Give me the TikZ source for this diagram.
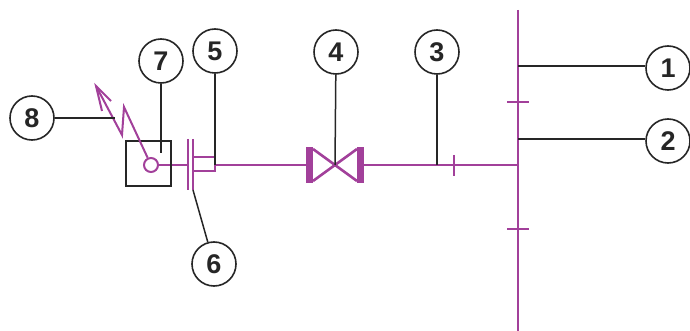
\documentclass[tikz,border=0pt]{standalone}
\usepackage{fontspec}
\setmainfont{Liberation Sans}
\definecolor{pipe}{HTML}{A2409A}
\definecolor{ink}{HTML}{262626}
\tikzset{
  callout/.style={circle,draw=ink,line width=1.6pt,minimum size=44pt,inner sep=0pt,font=\fontsize{27}{27}\selectfont\bfseries,text=ink,fill=white},
  leader/.style={draw=ink,line width=1.5pt},
  pipeline/.style={draw=pipe,line width=2pt},
  thick pipeline/.style={draw=pipe,line width=2.6pt}
}
\begin{document}
\begin{tikzpicture}[x=1pt,y=-1pt]
\useasboundingbox (0,0) rectangle (690,331);
% named points
\coordinate (busT) at (518,10);
\coordinate (busB) at (518,331);
\coordinate (busJ) at (518,165);
\coordinate (bus1) at (518,66);
\coordinate (bus2) at (518,139);
\coordinate (pipe3) at (437,165);
\coordinate (valveC) at (335,165);
\coordinate (boxIn) at (161,153);
\coordinate (flangeC) at (215,165);
\coordinate (zig8) at (115,118);
\coordinate (plateEnd) at (193,190);
% magenta pipework
\draw[pipeline] (busT) -- (busB);
\draw[pipeline] (507,102) -- (529,102);
\draw[pipeline] (507,229) -- (529,229);
\draw[pipeline] (364,165) -- (busJ);
\draw[pipeline] (454,155) -- (454,176);
\draw[pipeline] (flangeC) -- (306,165);
% valve
\fill[pipe] (306,147) rectangle (313,183);
\fill[pipe] (357,147) rectangle (364,183);
\draw[thick pipeline] (313,149) -- (357,181);
\draw[thick pipeline] (313,181) -- (357,149);
% coupling
\draw[pipeline] (188,139) -- (188,190);
\draw[pipeline] (193,139) -- (193,190);
\draw[pipeline] (194,157) -- (215,157) -- (215,171) -- (194,171);
\node[circle,draw=pipe,line width=2pt,minimum size=14pt,inner sep=0pt] (sensor) at (151,165) {};
\draw[pipeline] (sensor) -- (187,165);
% box
\node[draw=ink,line width=1.5pt,minimum size=45pt,inner sep=0pt] (box) at (148.5,163.5) {};
% antenna
\draw[pipeline] (sensor) -- (124,107) -- (122,135) -- (96,86);
\draw[pipeline] (102,111) -- (96,86) -- (111,101);
% callouts
\node[callout] (c8) at (32,118) {8};
\node[callout] (c7) at (161,61) {7};
\node[callout] (c5) at (215,51) {5};
\node[callout] (c6) at (214,264) {6};
\node[callout] (c4) at (336,52) {4};
\node[callout] (c3) at (437,52) {3};
\node[callout] (c1) at (668,68) {1};
\node[callout] (c2) at (668,141) {2};
% leaders
\draw[leader] (c8) -- (zig8);
\draw[leader] (c7) -- (boxIn);
\draw[leader] (c5) -- (flangeC);
\draw[leader] (c4) -- (valveC);
\draw[leader] (c3) -- (pipe3);
\draw[leader] (bus1) -- (c1.west |- bus1);
\draw[leader] (bus2) -- (c2.west |- bus2);
\draw[leader] (plateEnd) -- (c6);
\end{tikzpicture}
\end{document}
